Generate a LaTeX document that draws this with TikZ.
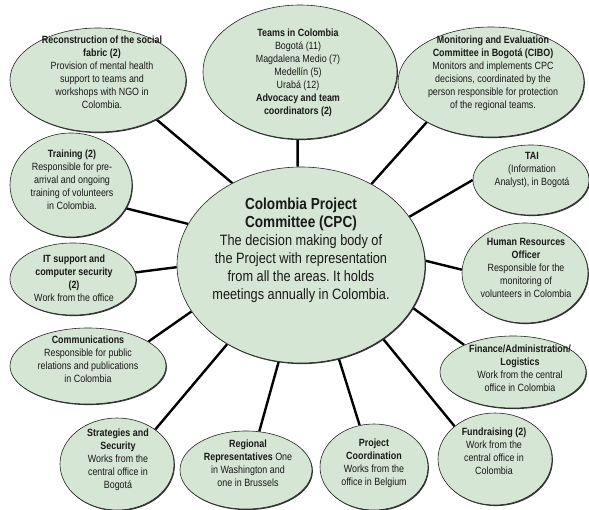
\documentclass[tikz,border=0pt]{standalone}
\usepackage{fontspec}
\setmainfont{Liberation Sans}
\newfontfamily\nar[FakeStretch=0.85]{Liberation Sans}
\usetikzlibrary{shapes.geometric,shadows,backgrounds}
\definecolor{bubfill}{RGB}{214,230,212}
\definecolor{txtcol}{RGB}{25,25,25}
\frenchspacing
\newcommand\cpcttl[1]{{\fontsize{16}{19}\selectfont\bfseries #1}}
\tikzset{
  bub/.style={ellipse, draw=black!85, line width=0.6pt, fill=bubfill, inner sep=0pt,
    drop shadow={shadow xshift=0.9pt, shadow yshift=-1.1pt, fill=black!80, opacity=1}},
  txt/.style={align=center, inner sep=0pt, text=txtcol, font=\nar\fontsize{10.5}{13}\selectfont},
  bigtxt/.style={align=center, inner sep=0pt, text=txtcol, font=\nar\fontsize{15}{18}\selectfont},
  conn/.style={line width=2.4pt, black}
}
\begin{document}
\begin{tikzpicture}[x=1pt, y=-1pt]
\useasboundingbox (0,0) rectangle (589,510);
% bubbles
\node[bub, minimum width=248pt, minimum height=196pt] (cpc) at (301,265) {};
\node[bub, minimum width=176pt, minimum height=104pt] (recon) at (98,80) {};
\node[bub, minimum width=194pt, minimum height=134pt] (teams) at (300,72) {};
\node[bub, minimum width=186pt, minimum height=110pt] (cibo) at (491,82) {};
\node[bub, minimum width=116pt, minimum height=70pt] (tai) at (531,180) {};
\node[bub, minimum width=126pt, minimum height=100pt] (hr) at (525,273) {};
\node[bub, minimum width=146pt, minimum height=72pt] (fin) at (513,372) {};
\node[bub, minimum width=114pt, minimum height=92pt] (fund) at (495,459) {};
\node[bub, minimum width=108pt, minimum height=86pt] (proj) at (374,467) {};
\node[bub, minimum width=132pt, minimum height=78pt] (reg) at (246,470) {};
\node[bub, minimum width=114pt, minimum height=92pt] (strat) at (117,464) {};
\node[bub, minimum width=156pt, minimum height=76pt] (comm) at (88,366) {};
\node[bub, minimum width=126pt, minimum height=72pt] (it) at (73,279) {};
\node[bub, minimum width=122pt, minimum height=104pt] (train) at (71,185) {};
% connectors
\begin{scope}[on background layer]
\draw[conn] (cpc.130.9) -- (recon.-34.1);
\draw[conn] (cpc.92.3) -- (teams.-92.6);
\draw[conn] (cpc.49.1) -- (cibo.212.4);
\draw[conn] (cpc.24.6) -- (tai.180);
\draw[conn] (cpc.2.3) -- (hr.177.3);
\draw[conn] (cpc.-21.2) -- (fin.151.6);
\draw[conn] (cpc.-42.4) -- (fund.141);
\draw[conn] (cpc.-68.7) -- (proj.109.3);
\draw[conn] (cpc.-103.9) -- (reg.71.6);
\draw[conn] (cpc.-133.5) -- (strat.42.8);
\draw[conn] (cpc.-157.1) -- (comm.22.8);
\draw[conn] (cpc.-179.1) -- (it.6.2);
\draw[conn] (cpc.160.7) -- (train.-23.7);
\end{scope}
% texts
\node[bigtxt] (cpcT) at (301,250) {\cpcttl{Colombia Project}\\\cpcttl{Committee (CPC)}\\The decision making body of\\the Project with representation\\from all the areas. It holds\\meetings annually in Colombia.};
\node[txt] (reconT) at (102,72) {\textbf{Reconstruction of the social}\\\textbf{fabric (2)}\\Provision of mental health\\support to teams and\\workshops with NGO in\\Colombia.};
\node[txt] (teamsT) at (298,73) {\textbf{Teams in Colombia}\\Bogotá (11)\\Magdalena Medio (7)\\Medellín (5)\\Urabá (12)\\\textbf{Advocacy and team}\\\textbf{coordinators (2)}};
\node[txt] (ciboT) at (493,73) {\textbf{Monitoring and Evaluation}\\\textbf{Committee in Bogotá (CIBO)}\\Monitors and implements CPC\\decisions, coordinated by the\\person responsible for protection\\of the regional teams.};
\node[txt] (taiT) at (532,170) {\textbf{TAI}\\(Information\\Analyst), in Bogotá};
\node[txt] (hrT) at (526,268) {\textbf{Human Resources}\\\textbf{Officer}\\Responsible for the\\monitoring of\\volunteers in Colombia};
\node[txt] (finT) at (520,368) {\textbf{Finance/Administration/}\\\textbf{Logistics}\\Work from the central\\office in Colombia};
\node[txt] (fundT) at (494,451) {\textbf{Fundraising (2)}\\Work from the\\central office in\\Colombia};
\node[txt] (projT) at (374,463) {\textbf{Project}\\\textbf{Coordination}\\Works from the\\office in Belgium};
\node[txt] (regT) at (248,463) {\textbf{Regional}\\\textbf{Representatives} One\\in Washington and\\one in Brussels};
\node[txt] (stratT) at (118,460) {\textbf{Strategies and}\\\textbf{Security}\\Works from the\\central office in\\Bogotá};
\node[txt] (commT) at (88,359) {\textbf{Communications}\\Responsible for public\\relations and publications\\in Colombia};
\node[txt] (itT) at (74,278) {\textbf{IT support and}\\\textbf{computer security}\\\textbf{(2)}\\Work from the office};
\node[txt] (trainT) at (72,180) {\textbf{Training (2)}\\Responsible for pre-\\arrival and ongoing\\training of volunteers\\in Colombia.};
\end{tikzpicture}
\end{document}
